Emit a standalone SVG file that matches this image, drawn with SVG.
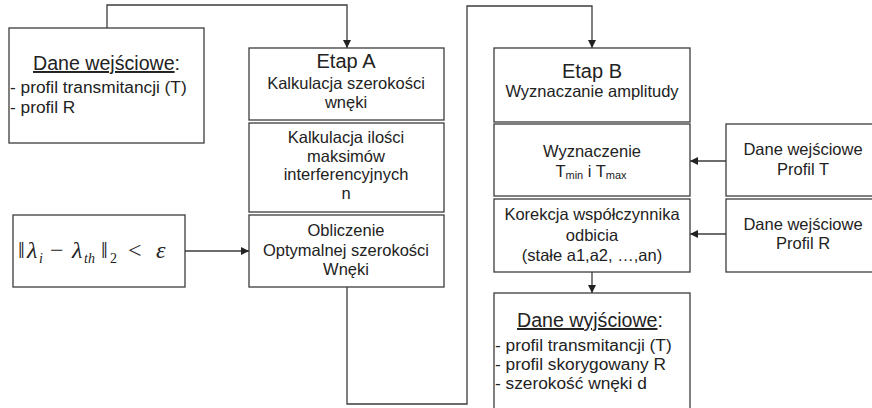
<svg xmlns="http://www.w3.org/2000/svg" width="872" height="408" viewBox="0 0 872 408">
<style>
.box{fill:#fff;stroke:#3c3c3c;stroke-width:1.3}
.t{font-family:"Liberation Sans",Arial,sans-serif;font-size:16.5px;fill:#222;text-anchor:middle}
.l{font-family:"Liberation Sans",Arial,sans-serif;font-size:17.3px;fill:#222}
.h{font-family:"Liberation Sans",Arial,sans-serif;font-size:20px;fill:#222;text-anchor:middle}
.hl{font-family:"Liberation Sans",Arial,sans-serif;font-size:19.6px;fill:#222}
.c{fill:none;stroke:#3c3c3c;stroke-width:1.3}
.m{font-family:"Liberation Serif","Times New Roman",serif;font-size:24px;fill:#222}
.s{font-size:14px}
</style>
<defs>
<marker id="a" viewBox="0 0 10 10" refX="10" refY="5" markerWidth="8" markerHeight="8" markerUnits="userSpaceOnUse" orient="auto">
<path d="M0,0 L10,5 L0,10 z" fill="#222"/>
</marker>
</defs>
<rect width="872" height="408" fill="#fff"/>
<g id="connectors">
<path class="c" d="M107,28 V5 H347 V48" marker-end="url(#a)"/>
<path class="c" d="M185,251 H249" marker-end="url(#a)"/>
<path class="c" d="M347,287 V404 H467 V6 H592 V48" marker-end="url(#a)"/>
<path class="c" d="M726,161 H690" marker-end="url(#a)"/>
<path class="c" d="M726,234 H690" marker-end="url(#a)"/>
<path class="c" d="M592,272 V293" marker-end="url(#a)"/>
</g>
<g id="input">
<rect class="box" x="9" y="28" width="195" height="115"/>
<text class="hl" x="33" y="70"><tspan text-decoration="underline">Dane wejściowe</tspan>:</text>
<text class="l" x="10" y="93">- profil transmitancji (T)</text>
<text class="l" x="10" y="113">- profil R</text>
</g>
<g id="formula">
<rect class="box" x="13" y="215" width="172" height="72"/>
<text class="m" y="258"><tspan x="18">‖</tspan><tspan x="27" font-style="italic">λ</tspan><tspan class="s" x="39" y="263" font-style="italic">i</tspan><tspan x="50" y="258">−</tspan><tspan x="72" font-style="italic">λ</tspan><tspan class="s" x="84" y="263" font-style="italic">th</tspan><tspan x="101" y="258">‖</tspan><tspan class="s" x="110" y="263">2</tspan><tspan x="128" y="258">&lt;</tspan><tspan x="156" font-style="italic">ε</tspan></text>
</g>
<g id="etapA">
<rect class="box" x="249" y="48" width="195" height="72"/>
<text class="h" x="346" y="68">Etap A</text>
<text class="t" x="346" y="89">Kalkulacja szerokości</text>
<text class="t" x="346" y="108">wnęki</text>
</g>
<g id="maksima">
<rect class="box" x="249" y="123" width="195" height="89"/>
<text class="t" x="346" y="143">Kalkulacja ilości</text>
<text class="t" x="346" y="162">maksimów</text>
<text class="t" x="346" y="180">interferencyjnych</text>
<text class="t" x="346" y="199">n</text>
</g>
<g id="optymalna">
<rect class="box" x="249" y="215" width="195" height="72"/>
<text class="t" x="346" y="236">Obliczenie</text>
<text class="t" x="346" y="256">Optymalnej szerokości</text>
<text class="t" x="346" y="275">Wnęki</text>
</g>
<g id="etapB">
<rect class="box" x="494" y="48" width="196" height="74"/>
<text class="h" x="592" y="78">Etap B</text>
<text class="t" x="592" y="97">Wyznaczanie amplitudy</text>
</g>
<g id="tminmax">
<rect class="box" x="494" y="124" width="196" height="72"/>
<text class="t" x="592" y="157">Wyznaczenie</text>
<text class="t" x="591" y="177" font-size="16">T<tspan font-size="11" dy="2">min</tspan><tspan dy="-2"> i T</tspan><tspan font-size="11" dy="2">max</tspan></text>
</g>
<g id="korekcja">
<rect class="box" x="494" y="199" width="196" height="73"/>
<text class="t" x="592" y="220">Korekcja współczynnika</text>
<text class="t" x="592" y="241">odbicia</text>
<text class="t" x="592" y="261">(stałe a1,a2, …,an)</text>
</g>
<g id="profilT">
<rect class="box" x="726" y="124" width="160" height="72"/>
<text class="t" x="803" y="155">Dane wejściowe</text>
<text class="t" x="803" y="175">Profil T</text>
</g>
<g id="profilR">
<rect class="box" x="726" y="199" width="160" height="73"/>
<text class="t" x="803" y="230">Dane wejściowe</text>
<text class="t" x="803" y="249">Profil R</text>
</g>
<g id="output">
<rect class="box" x="494" y="293" width="196" height="125"/>
<text class="hl" x="517" y="327"><tspan text-decoration="underline">Dane wyjściowe</tspan>:</text>
<text class="l" x="495" y="351">- profil transmitancji (T)</text>
<text class="l" x="495" y="370">- profil skorygowany R</text>
<text class="l" x="495" y="389">- szerokość wnęki d</text>
</g>
</svg>
